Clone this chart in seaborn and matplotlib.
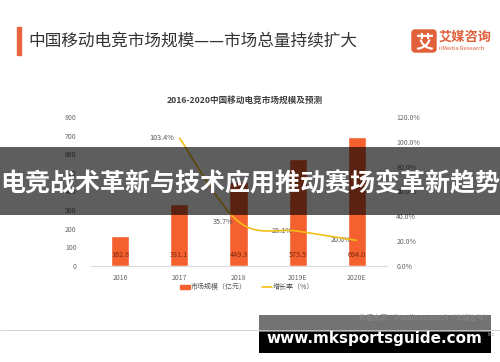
import matplotlib
matplotlib.use("Agg")
import matplotlib.pyplot as plt
from matplotlib.patches import Rectangle, FancyBboxPatch, PathPatch
from matplotlib.path import Path
import numpy as np
import pandas as pd
import seaborn as sns

# data
years = ["2016", "2017", "2018", "2019E", "2020E"]
market_size = [162.8, 331.1, 449.3, 575.5, 694.0]  # 亿元
growth_years = ["2017", "2018", "2019E", "2020E"]
growth_rate = [103.4, 35.7, 28.1, 20.6]  # %
left_ticks = [0, 100, 200, 300, 400, 500, 600, 700, 800]
right_ticks = [0, 20, 40, 60, 80, 100, 120]

BAR = "#F5602F"
LINE = "#F2BE16"
LABEL = "#7A2A12"
TICK = "#666666"

sns.set_theme(style="white")
plt.rcParams["font.family"] = ["Noto Sans CJK SC", "DejaVu Sans"]
plt.rcParams["axes.unicode_minus"] = False

fig = plt.figure(figsize=(5.0, 3.62), dpi=100)
fig.patch.set_facecolor("white")

ax = fig.add_axes([0.181, 0.2652, 0.592, 0.4116])
df = pd.DataFrame({"year": years, "size": market_size})
sns.barplot(data=df, x="year", y="size", color=BAR, width=0.31,
            saturation=1, ax=ax)
ax.set_xlim(-0.5, len(years) - 0.5)
ax.set_ylim(0, 800)
ax.set_yticks(left_ticks)
ax.set_xlabel("")
ax.set_ylabel("")
for s in ["top", "right", "left"]:
    ax.spines[s].set_visible(False)
ax.spines["bottom"].set_color("#d9d9d9")
ax.spines["bottom"].set_linewidth(0.8)
ax.tick_params(axis="y", labelsize=5, colors=TICK, length=0, pad=10)
ax.tick_params(axis="x", labelsize=5, colors=TICK, length=0, pad=6)
for i, v in enumerate(market_size):
    ax.text(i, 58, f"{v:.1f}", ha="center", va="center", fontsize=5.2,
            color=LABEL)

ax2 = ax.twinx()
ax2.set_ylim(0, 120)
ax2.set_yticks(right_ticks)
ax2.set_yticklabels([f"{t:.1f}%" for t in right_ticks])
ax2.tick_params(axis="y", labelsize=5, colors=TICK, length=0, pad=7)
for s in ax2.spines.values():
    s.set_visible(False)
ax2.grid(False)
ax.grid(False)

# smoothed growth line (bezier through the data points, like Excel)
xs = np.array([years.index(y) for y in growth_years], dtype=float)
ys = np.array(growth_rate, dtype=float)
pts = np.column_stack([xs, ys])
ext = np.vstack([pts[0], pts, pts[-1]])
verts = [tuple(pts[0])]
codes = [Path.MOVETO]
for i in range(len(pts) - 1):
    p0, p1, p2, p3 = ext[i], ext[i + 1], ext[i + 2], ext[i + 3]
    c1 = p1 + (p2 - p0) / 6
    c2 = p2 - (p3 - p1) / 6
    verts += [tuple(c1), tuple(c2), tuple(p2)]
    codes += [Path.CURVE4] * 3
ax2.add_patch(PathPatch(Path(verts, codes), fill=False, edgecolor=LINE,
                        linewidth=1.2, zorder=5))
for x, y in zip(xs, ys):
    ax2.annotate(f"{y:.1f}%", (x, y), xytext=(-4, 0),
                 textcoords="offset points", ha="right", va="center",
                 fontsize=5.2, color="#555555")

# overlay in pixel coordinates
ov = fig.add_axes([0, 0, 1, 1], zorder=10)
ov.set_xlim(0, 500)
ov.set_ylim(362, 0)
ov.axis("off")
ov.patch.set_alpha(0)

# header
ov.add_patch(Rectangle((17, 27), 4, 28, color="#E8643C"))
ov.text(28, 41, "中国移动电竞市场规模——市场总量持续扩大", fontsize=12,
        color="#333333", va="center", ha="left")
ov.add_patch(FancyBboxPatch((412, 30), 24, 22,
                            boxstyle="round,pad=0,rounding_size=3",
                            color="#E0603A"))
ov.text(424, 41.5, "艾", fontsize=13, color="white", ha="center",
        va="center", fontweight="bold")
ov.text(439, 37, "艾媒咨询", fontsize=9.5, color="#E0603A", ha="left",
        va="center", fontweight="bold")
ov.text(439, 48, "iiMedia Research", fontsize=4.2, color="#E0603A",
        ha="left", va="center")

# chart title
ov.text(245, 100, "2016-2020中国移动电竞市场规模及预测", fontsize=6.2,
        color="#404040", ha="center", va="center", fontweight="bold")

# legend
ov.add_patch(Rectangle((180, 285), 10, 4, color=BAR))
ov.text(191, 287, "市场规模（亿元）", fontsize=5, color="#555555",
        va="center", ha="left")
ov.plot([262, 272], [287, 287], color=LINE, lw=1.2)
ov.text(273, 287, "增长率（%）", fontsize=5, color="#555555",
        va="center", ha="left")

# source + rule
ov.text(490, 318, "数据来源：iiMedia Research（艾媒咨询）", fontsize=5,
        color="#888888", ha="right", va="center")
ov.plot([0, 500], [330, 330], color="#cccccc", lw=0.6)
ov.text(495, 334, "Inc", fontsize=3.5, color="#999999", ha="right",
        va="center")

# banner
ov.add_patch(Rectangle((0, 147), 500, 68, color="black", alpha=0.63,
                       linewidth=0))
ov.text(250, 184, "电竞战术革新与技术应用推动赛场变革新趋势", fontsize=18,
        color="white", ha="center", va="center", fontweight="bold")

# watermark
ov.add_patch(Rectangle((259, 315), 232, 17, color="black", alpha=0.55,
                       linewidth=0))
ov.add_patch(Rectangle((259, 332), 232, 21, color="black", linewidth=0))
ov.text(374, 338, "www.mksportsguide.com", fontsize=11, color="white",
        ha="center", va="center", fontweight="bold",
        family=["DejaVu Sans"])

fig.savefig("out.png", dpi=100, facecolor="white")
